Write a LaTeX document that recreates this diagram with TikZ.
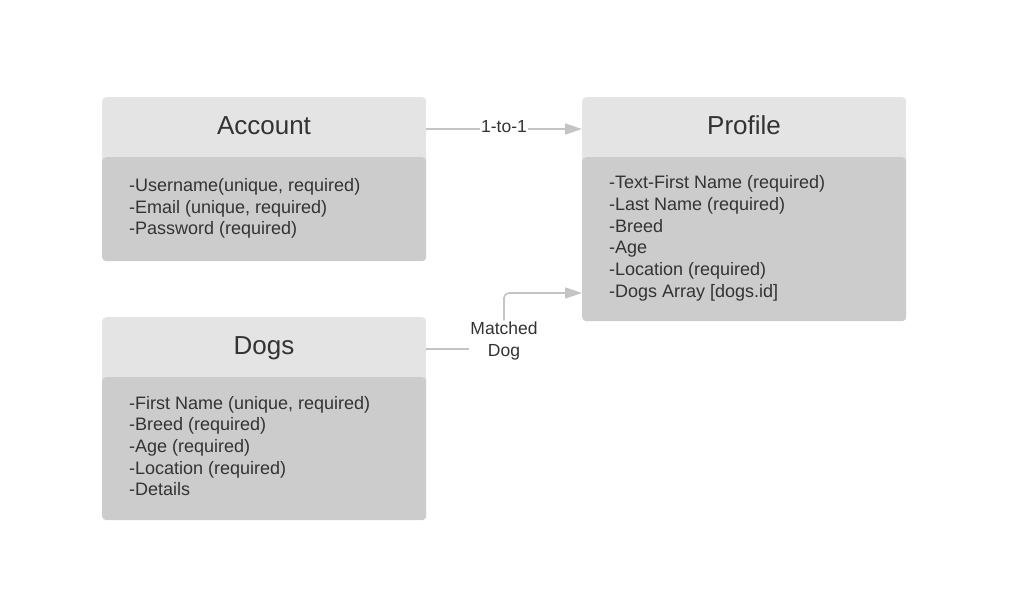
\documentclass[tikz,border=0pt]{standalone}
\usepackage{fontspec}
\setmainfont{Liberation Sans}
\usetikzlibrary{arrows.meta,backgrounds}
\definecolor{headfill}{HTML}{E4E4E4}
\definecolor{bodyfill}{HTML}{CCCCCC}
\definecolor{txt}{HTML}{333333}
\definecolor{conn}{HTML}{C4C4C4}
\begin{document}
\begin{tikzpicture}[x=1pt,y=-1pt,
  headbox/.style={fill=headfill,rounded corners=4pt,minimum width=324pt,minimum height=68pt,anchor=north west,inner sep=0pt},
  bodybox/.style={fill=bodyfill,rounded corners=4pt,minimum width=324pt,anchor=north west,inner sep=0pt},
  titletext/.style={anchor=base,inner sep=0pt,text=txt,font=\fontsize{26}{31}\selectfont},
  bodytext/.style={anchor=north west,inner sep=0pt,align=left,text=txt,font=\fontsize{18}{21.7}\selectfont},
  conntext/.style={inner sep=1.5pt,fill=white,align=center,text=txt,font=\fontsize{17.5}{21.7}\selectfont},
  connline/.style={draw=conn,line width=1.6pt},
  conntip/.style={-{Triangle[length=17pt,width=11pt]}}
]
\useasboundingbox (0,0) rectangle (1010,612);

% Account
\node[headbox] (acchead) at (102,97) {};
\node[bodybox,minimum height=104pt] (accbody) at (102,157) {};
\node[titletext] (acctitle) at (264,134.5) {Account};
\node[bodytext] (acctext) at (129,178.3) {-Username(unique, required)\\-Email (unique, required)\\-Password (required)};

% Profile
\node[headbox] (profhead) at (582,97) {};
\node[bodybox,minimum height=164pt] (profbody) at (582,157) {};
\node[titletext] (proftitle) at (744,134.5) {Profile};
\node[bodytext] (proftext) at (609,175.6) {-Text-First Name (required)\\-Last Name (required)\\-Breed\\-Age\\-Location (required)\\-Dogs Array [dogs.id]};

% Dogs
\node[headbox] (dogshead) at (102,317) {};
\node[bodybox,minimum height=143pt] (dogsbody) at (102,377) {};
\node[titletext] (dogstitle) at (264,354.5) {Dogs};
\node[bodytext] (dogstext) at (129,395.8) {-First Name (unique, required)\\-Breed (required)\\-Age (required)\\-Location (required)\\-Details};

% connector labels
\node[conntext,anchor=base,inner ysep=1pt] (onelabel) at (504,132.5) {1-to-1};
\node[conntext,anchor=north] (mlabel) at (504,320.5) {Matched\\Dog};

\coordinate (accout) at ([yshift=-32pt]acchead.north east);
\coordinate (profin) at ([yshift=-32pt]profhead.north west);
\coordinate (dogsout) at ([yshift=-32pt]dogshead.north east);
\coordinate (mtarget) at ([yshift=-136pt]profbody.north west);

\begin{pgfonlayer}{background}
\fill[white] (0,0) rectangle (1010,612);
\draw[connline,conntip] (accout) -- (profin);
\end{pgfonlayer}
\draw[connline] (dogsout) -- (dogsout -| mlabel.west);
\draw[connline,conntip,rounded corners=5pt] (mlabel.north) |- (mtarget);
\end{tikzpicture}
\end{document}
